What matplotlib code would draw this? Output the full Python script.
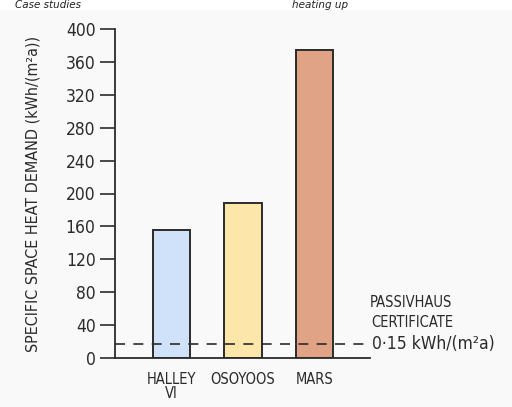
import matplotlib
matplotlib.use("Agg")
import matplotlib.pyplot as plt
from matplotlib.patches import Rectangle

# Data
sites = ["HALLEY\nVI", "OSOYOOS", "MARS"]
heat_demand = [156, 188, 374]
bar_colors = ["#cfe2fa", "#fde6a9", "#e0a385"]
passivhaus_level = 17
y_ticks = [0, 40, 80, 120, 160, 200, 240, 280, 320, 360, 400]

plt.rcParams["font.family"] = ["DejaVu Sans"]
plt.rcParams["font.stretch"] = "condensed"

bg = "#f9f9f9"
ink = "#2b2b2b"

fig = plt.figure(figsize=(5.12, 4.07), dpi=100, facecolor=bg)

# white strip on top with the slide title
fig.patches.append(Rectangle((0, 0.975), 1, 0.03, transform=fig.transFigure,
                             facecolor="white", edgecolor="none", zorder=0))
fig.text(0.03, 0.999, "Case studies", fontsize=7.5, style="italic", fontstretch="normal",
         color="#222222", va="top", ha="left")
fig.text(0.57, 0.999, "heating up", fontsize=7.5, style="italic", fontstretch="normal",
         color="#222222", va="top", ha="left")

ax = fig.add_axes([115 / 512, 49 / 407, 255 / 512, 329 / 407])
ax.set_facecolor(bg)

x = list(range(len(sites)))
ax.bar(x, heat_demand, width=0.52, color=bar_colors, edgecolor=ink, linewidth=1.4, zorder=2)

ax.axhline(passivhaus_level, xmin=0, xmax=0.99, color=ink, linewidth=1.2,
           dashes=(6, 5), zorder=3)

ax.set_xlim(-0.79, 2.776)
ax.set_ylim(0, 400)
ax.set_yticks(y_ticks)
ax.set_xticks(x)
ax.set_xticklabels(sites, fontsize=10.5, color=ink, linespacing=0.95)

ax.tick_params(axis="y", length=11, width=1.2, color=ink, labelsize=12.5, labelcolor=ink, pad=3)
ax.tick_params(axis="x", length=0, pad=10)

for side in ["top", "right"]:
    ax.spines[side].set_visible(False)
ax.spines["left"].set_color(ink)
ax.spines["left"].set_linewidth(1.3)
ax.spines["bottom"].set_color(ink)
ax.spines["bottom"].set_linewidth(1.3)

ax.set_ylabel("SPECIFIC SPACE HEAT DEMAND (kWh/(m\u00b2a))", fontsize=11.5, color=ink, labelpad=18)

# Passivhaus annotation to the right of the axes
ax.text(2.776, 67, "PASSIVHAUS", fontsize=10.5, color=ink, ha="left", va="center", clip_on=False)
ax.text(2.80, 43, "CERTIFICATE", fontsize=10.5, color=ink, ha="left", va="center", clip_on=False)
ax.text(2.80, passivhaus_level, "0\u00b715 kWh/(m\u00b2a)", fontsize=12.5, color=ink,
        ha="left", va="center", clip_on=False)

fig.savefig("out.png", dpi=100, facecolor=bg)
